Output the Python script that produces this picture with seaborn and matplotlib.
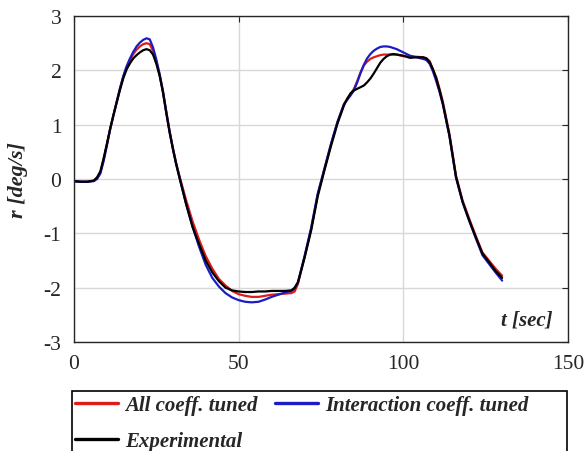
import numpy as np
import pandas as pd
import seaborn as sns
import matplotlib
matplotlib.use("Agg")
import matplotlib.pyplot as plt
from matplotlib.patches import Rectangle

# ---- data ----
t = [0, 2, 4, 6, 7, 8, 9, 10, 11, 12, 13, 14, 15, 16, 17, 18, 19, 20, 21, 22,
     23, 24, 25, 26, 27, 28, 29, 30, 31, 32, 34, 36, 38, 40, 42, 44, 46, 48, 50, 52,
     54, 56, 58, 60, 62, 64, 66, 67, 68, 69, 70, 72, 74, 76, 78, 80, 82, 83, 84, 85,
     86, 87, 88, 89, 90, 91, 92, 93, 94, 95, 96, 97, 98, 100, 102, 104, 106, 107, 108, 109,
     110, 111, 112, 114, 116, 118, 120, 122, 124, 126, 128, 130]

experimental = [
    -0.04, -0.05, -0.05, -0.03, 0.03, 0.14, 0.38, 0.65, 0.93, 1.18,
    1.42, 1.65, 1.86, 2.02, 2.13, 2.22, 2.28, 2.33, 2.37, 2.39,
    2.37, 2.29, 2.12, 1.90, 1.60, 1.22, 0.87, 0.56, 0.28, 0.03,
    -0.45, -0.88, -1.20, -1.50, -1.72, -1.88, -2.00, -2.05, -2.07, -2.08,
    -2.08, -2.07, -2.07, -2.06, -2.06, -2.06, -2.05, -2.00, -1.90, -1.68,
    -1.45, -0.95, -0.32, 0.15, 0.60, 1.02, 1.36, 1.48, 1.58, 1.63,
    1.66, 1.69, 1.72, 1.78, 1.85, 1.94, 2.04, 2.14, 2.21, 2.26,
    2.29, 2.30, 2.29, 2.27, 2.23, 2.24, 2.24, 2.22, 2.15, 2.02,
    1.85, 1.63, 1.39, 0.80, 0.04, -0.42, -0.76, -1.07, -1.37, -1.53,
    -1.69, -1.82,
]
all_tuned = [
    -0.04, -0.05, -0.05, -0.03, 0.02, 0.12, 0.36, 0.64, 0.93, 1.18,
    1.42, 1.67, 1.89, 2.06, 2.19, 2.30, 2.38, 2.44, 2.48, 2.50,
    2.48, 2.36, 2.16, 1.92, 1.61, 1.24, 0.89, 0.58, 0.30, 0.06,
    -0.38, -0.78, -1.12, -1.42, -1.65, -1.84, -1.96, -2.06, -2.12, -2.15,
    -2.17, -2.17, -2.15, -2.13, -2.12, -2.11, -2.10, -2.07, -1.93, -1.68,
    -1.44, -0.92, -0.29, 0.18, 0.63, 1.05, 1.38, 1.48, 1.56, 1.66,
    1.80, 1.96, 2.09, 2.16, 2.21, 2.24, 2.26, 2.28, 2.29, 2.29,
    2.29, 2.29, 2.29, 2.26, 2.25, 2.25, 2.24, 2.22, 2.17, 2.01,
    1.87, 1.66, 1.42, 0.83, 0.06, -0.40, -0.73, -1.05, -1.35, -1.50,
    -1.65, -1.78,
]
interaction_tuned = [
    -0.04, -0.05, -0.05, -0.04, 0.00, 0.10, 0.33, 0.62, 0.92, 1.18,
    1.43, 1.68, 1.90, 2.08, 2.22, 2.34, 2.44, 2.51, 2.56, 2.59,
    2.57, 2.42, 2.20, 1.93, 1.62, 1.25, 0.88, 0.57, 0.28, 0.04,
    -0.45, -0.88, -1.25, -1.58, -1.82, -1.98, -2.10, -2.18, -2.23, -2.26,
    -2.27, -2.26, -2.22, -2.17, -2.13, -2.09, -2.06, -2.02, -1.90, -1.66,
    -1.42, -0.90, -0.27, 0.18, 0.64, 1.05, 1.38, 1.46, 1.54, 1.63,
    1.78, 1.95, 2.10, 2.22, 2.30, 2.36, 2.40, 2.43, 2.44, 2.44,
    2.43, 2.41, 2.39, 2.33, 2.27, 2.24, 2.21, 2.19, 2.12, 1.98,
    1.80, 1.60, 1.37, 0.79, 0.02, -0.43, -0.77, -1.09, -1.40, -1.56,
    -1.72, -1.87,
]

series_names = ["All coeff. tuned", "Interaction coeff. tuned", "Experimental"]
x_ticks = [0, 50, 100, 150]
y_ticks = [-3, -2, -1, 0, 1, 2, 3]

df = pd.concat([
    pd.DataFrame({"t": t, "r": all_tuned, "series": series_names[0]}),
    pd.DataFrame({"t": t, "r": interaction_tuned, "series": series_names[1]}),
    pd.DataFrame({"t": t, "r": experimental, "series": series_names[2]}),
], ignore_index=True)

# ---- style ----
sns.set_style("white")
plt.rcParams["font.family"] = ["Liberation Serif", "DejaVu Serif"]
plt.rcParams["axes.unicode_minus"] = False

fig = plt.figure(figsize=(5.87, 4.52), dpi=100)
ax = fig.add_axes([74 / 587, 1 - 343 / 452, (568 - 74) / 587, (343 - 17) / 452])

palette = {series_names[0]: "#e01b1b", series_names[1]: "#1c1cc4", series_names[2]: "#000000"}
sns.lineplot(data=df, x="t", y="r", hue="series", hue_order=series_names,
             palette=palette, estimator=None, sort=False, linewidth=1.6, ax=ax)

ax.set_xlim(0, 150)
ax.set_ylim(-3, 3)
ax.set_xticks(x_ticks)
ax.set_yticks(y_ticks)
ax.set_xticklabels([str(v) for v in x_ticks])
ax.set_yticklabels([str(v) for v in y_ticks])
ax.grid(True, color="#d8d8d8", linewidth=1.0)
ax.set_axisbelow(True)
for s in ax.spines.values():
    s.set_color("#262626")
    s.set_linewidth(1.0)
ax.tick_params(direction="in", length=4, width=0.8, color="#262626",
               top=True, right=True, labelsize=15.5, pad=9)

ax.set_xlabel("")
ax.set_ylabel("r [deg/s]", fontsize=16, fontweight="bold", fontstyle="italic")
ax.yaxis.set_label_coords(-0.093, 0.5)
ax.text(0.968, 0.07, "t [sec]", transform=ax.transAxes, ha="right", va="center",
        fontsize=15, fontweight="bold", fontstyle="italic")

handles, labels = ax.get_legend_handles_labels()
ax.get_legend().remove()
hmap = dict(zip(labels, handles))
order = [series_names[0], series_names[2], series_names[1]]
leg = fig.legend([hmap[k] for k in order], order, loc="upper left",
                 bbox_to_anchor=(75 / 587, 1 - 396 / 452), ncol=2, frameon=False,
                 borderpad=0, borderaxespad=0, handlelength=2.07, handletextpad=0.34,
                 columnspacing=0.82, labelspacing=0.78,
                 prop={"size": 15, "weight": "bold", "style": "italic"})
for h in leg.legend_handles:
    h.set_linewidth(2.4)

fig.add_artist(Rectangle((72 / 587, -0.05), (567 - 72) / 587, (452 - 392) / 452 + 0.05,
                         transform=fig.transFigure, fill=False, edgecolor="black",
                         linewidth=1.2, clip_on=False))

fig.savefig("out.png", dpi=100)
